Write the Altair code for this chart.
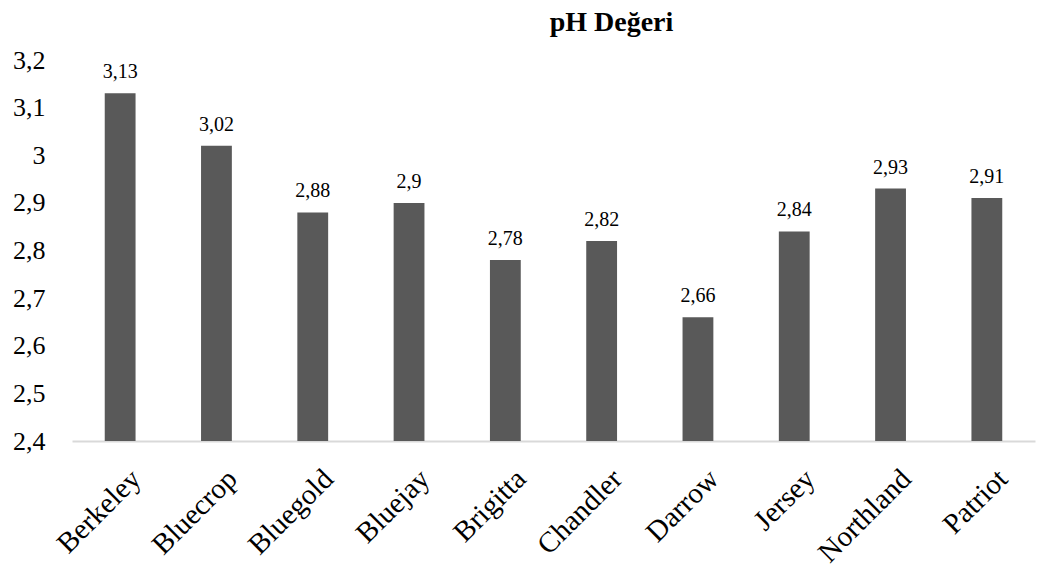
import altair as alt
import pandas as pd

categories = ["Berkeley", "Bluecrop", "Bluegold", "Bluejay", "Brigitta",
              "Chandler", "Darrow", "Jersey", "Northland", "Patriot"]
values = [3.13, 3.02, 2.88, 2.90, 2.78, 2.82, 2.66, 2.84, 2.93, 2.91]
y_ticks = [2.4, 2.5, 2.6, 2.7, 2.8, 2.9, 3.0, 3.1, 3.2]

df = pd.DataFrame({"cat": categories, "val": values})
FONT = "Liberation Serif"

x = alt.X("cat:N", sort=categories, title=None,
          scale=alt.Scale(paddingInner=0.68, paddingOuter=0.34),
          axis=alt.Axis(labelAngle=-45, labelAlign="right", labelBaseline="top",
                        labelFont=FONT, labelFontSize=29, labelColor="#000000",
                        labelPadding=23, labelOffset=6, ticks=False,
                        domainColor="#d9d9d9", domainWidth=2))
y = alt.Y("val:Q", title=None,
          scale=alt.Scale(domain=[2.4, 3.2], zero=False, nice=False),
          axis=alt.Axis(values=y_ticks,
                        labelExpr="replace(format(datum.value, '.1~f'), '.', ',')",
                        labelFont=FONT, labelFontSize=26, labelColor="#000000",
                        labelPadding=27, ticks=False, domain=False, grid=False))

bars = alt.Chart(df).mark_bar(color="#595959", clip=True).encode(x=x, y=y, y2=alt.datum(2.4))
labels = alt.Chart(df).mark_text(font=FONT, fontSize=20, color="#000000",
                                 baseline="alphabetic", dy=-15).encode(
    x=alt.X("cat:N", sort=categories),
    y="val:Q",
    text=alt.Text("label:N"),
).transform_calculate(label="replace(format(datum.val, '.2~f'), '.', ',')")

chart = (bars + labels).properties(
    width=963, height=381,
    title=alt.Title("pH Değeri", font=FONT, fontSize=28, fontWeight="bold",
                    color="#000000", anchor="middle", dx=58, offset=10),
    autosize=alt.AutoSizeParams(type="none"),
    padding={"left": 64, "top": 52, "right": 14, "bottom": 126},
).configure_view(stroke=None)

chart.save("out.html", embed_options={"renderer": "svg", "actions": False})
